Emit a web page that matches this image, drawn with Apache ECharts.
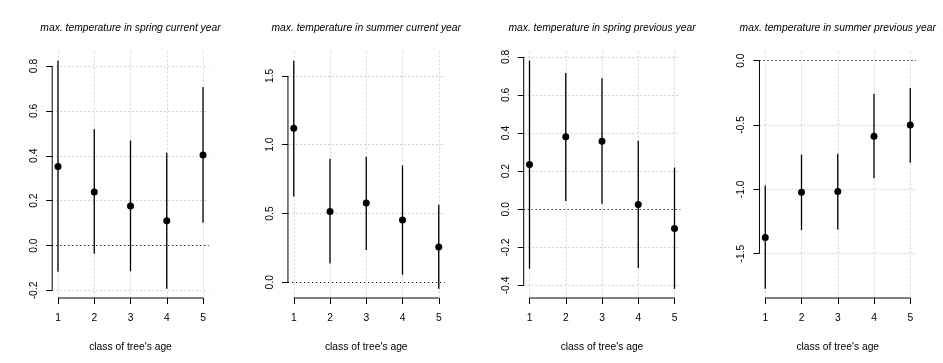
<!DOCTYPE html>
<html>
<head>
<meta charset="utf-8">
<script src="https://cdn.jsdelivr.net/npm/echarts@6/dist/echarts.min.js"></script>
<style>
  html, body { margin: 0; padding: 0; background: #fff; }
  #chart { width: 943px; height: 363px; }
</style>
</head>
<body>
<div id="chart"></div>
<script>
// class of tree's age
var classes = [1, 2, 3, 4, 5];

var titles = [
    'max. temperature in spring current year',
    'max. temperature in summer current year',
    'max. temperature in spring previous year',
    'max. temperature in summer previous year'
];

// estimates with lower / upper interval bounds
var springCurEst = [0.352, 0.239, 0.176, 0.110, 0.404];
var springCurLow = [-0.117, -0.037, -0.114, -0.193, 0.102];
var springCurUp = [0.824, 0.518, 0.468, 0.413, 0.707];

var summerCurEst = [1.120, 0.515, 0.576, 0.453, 0.257];
var summerCurLow = [0.624, 0.136, 0.235, 0.054, -0.048];
var summerCurUp = [1.611, 0.898, 0.912, 0.849, 0.564];

var springPrevEst = [0.235, 0.380, 0.357, 0.025, -0.101];
var springPrevLow = [-0.312, 0.043, 0.029, -0.308, -0.418];
var springPrevUp = [0.780, 0.715, 0.688, 0.359, 0.219];

var summerPrevEst = [-1.375, -1.023, -1.018, -0.588, -0.500];
var summerPrevLow = [-1.774, -1.318, -1.313, -0.914, -0.793];
var summerPrevUp = [-0.971, -0.730, -0.723, -0.259, -0.212];

// y tick labels
var springCurTicks = [-0.2, 0.0, 0.2, 0.4, 0.6, 0.8];
var summerCurTicks = [0.0, 0.5, 1.0, 1.5];
var springPrevTicks = [-0.4, -0.2, 0.0, 0.2, 0.4, 0.6, 0.8];
var summerPrevTicks = [-1.5, -1.0, -0.5, 0.0];

var panels = [
    {est: springCurEst, low: springCurLow, up: springCurUp, ticks: springCurTicks, extra: []},
    {est: summerCurEst, low: summerCurLow, up: summerCurUp, ticks: summerCurTicks, extra: []},
    {est: springPrevEst, low: springPrevLow, up: springPrevUp, ticks: springPrevTicks, extra: []},
    {est: summerPrevEst, low: summerPrevLow, up: summerPrevUp, ticks: summerPrevTicks, extra: [0]}
];

var font = 'Liberation Sans, Arial, Helvetica, sans-serif';
var fs = 10.3;

// R style range: data range padded by 4% on each side
function padRange(lo, hi) {
    var d = (hi - lo) * 0.04;
    return [lo - d, hi + d];
}

// segment from (v0,v1) to (v2,v3) in data coords
function segItem(width) {
    return function (params, api) {
        var a = api.coord([api.value(0), api.value(1)]);
        var b = api.coord([api.value(2), api.value(3)]);
        return {
            type: 'line',
            shape: {x1: a[0], y1: a[1], x2: b[0], y2: b[1]},
            style: {stroke: '#000', lineWidth: width}
        };
    };
}

var chartDom = document.getElementById('chart');
var myChart = echarts.init(chartDom, null, {renderer: 'canvas'});

var grids = [], xAxes = [], yAxes = [], series = [], title = [];
var xr = padRange(classes[0], classes[classes.length - 1]);

panels.forEach(function (p, i) {
    var yr = padRange(Math.min.apply(null, p.low.concat(p.extra)), Math.max.apply(null, p.up.concat(p.extra)));
    var left = 52.2 + i * 235.75;
    var width = 156.6;

    grids.push({left: left, top: 51.5, width: width, height: 246.5, containLabel: false, outerBoundsMode: 'none'});

    title.push({
        text: titles[i],
        left: left + width / 2,
        top: 23.5,
        padding: 0,
        textAlign: 'center',
        textStyle: {fontFamily: font, fontSize: fs, fontStyle: 'italic', fontWeight: 'normal', color: '#000'}
    });

    xAxes.push({
        type: 'value',
        gridIndex: i,
        min: xr[0],
        max: xr[1],
        name: "class of tree's age",
        nameLocation: 'middle',
        nameGap: 44,
        nameTextStyle: {fontFamily: font, fontSize: fs, color: '#000'},
        axisLine: {show: false, onZero: false},
        axisTick: {show: true, length: 6, inside: false, customValues: classes, lineStyle: {color: '#000', width: 1}},
        axisLabel: {show: true, margin: 15, customValues: classes, fontFamily: font, fontSize: fs, color: '#000'},
        splitLine: {show: true, customValues: classes, lineStyle: {color: '#d3d3d3', width: 1, type: [2, 2]}}
    });

    yAxes.push({
        type: 'value',
        gridIndex: i,
        min: yr[0],
        max: yr[1],
        axisLine: {show: false, onZero: false},
        axisTick: {show: true, length: 6, inside: false, customValues: p.ticks, lineStyle: {color: '#000', width: 1}},
        axisLabel: {
            show: true, rotate: 90, margin: 13, customValues: p.ticks,
            fontFamily: font, fontSize: fs, color: '#000',
            formatter: function (value) { return value.toFixed(1); }
        },
        splitLine: {show: true, customValues: p.ticks, lineStyle: {color: '#d3d3d3', width: 1, type: [2, 2]}}
    });

    // axis lines, only between first and last tick like R
    series.push({
        type: 'custom', xAxisIndex: i, yAxisIndex: i, silent: true, clip: false, z: 5,
        encode: {x: [0, 2], y: [1, 3]},
        data: [
            [xr[0], p.ticks[0], xr[0], p.ticks[p.ticks.length - 1]],
            [classes[0], yr[0], classes[classes.length - 1], yr[0]]
        ],
        renderItem: segItem(1)
    });

    // interval bars
    series.push({
        type: 'custom', xAxisIndex: i, yAxisIndex: i, silent: true, clip: false, z: 3,
        encode: {x: [0, 2], y: [1, 3]},
        data: classes.map(function (c, k) { return [c, p.low[k], c, p.up[k]]; }),
        renderItem: segItem(1.3)
    });

    // point estimates + zero line
    series.push({
        type: 'scatter', xAxisIndex: i, yAxisIndex: i, silent: true, z: 4,
        symbol: 'circle', symbolSize: 7,
        itemStyle: {color: '#000', opacity: 1},
        data: classes.map(function (c, k) { return [c, p.est[k]]; }),
        markLine: {
            silent: true,
            symbol: ['none', 'none'],
            label: {show: false},
            lineStyle: {color: '#000', width: 1, type: [1, 3]},
            data: [{yAxis: 0}]
        }
    });
});

var option = {
    animation: false,
    backgroundColor: '#fff',
    title: title,
    grid: grids,
    xAxis: xAxes,
    yAxis: yAxes,
    series: series
};
myChart.setOption(option);
</script>
</body>
</html>
